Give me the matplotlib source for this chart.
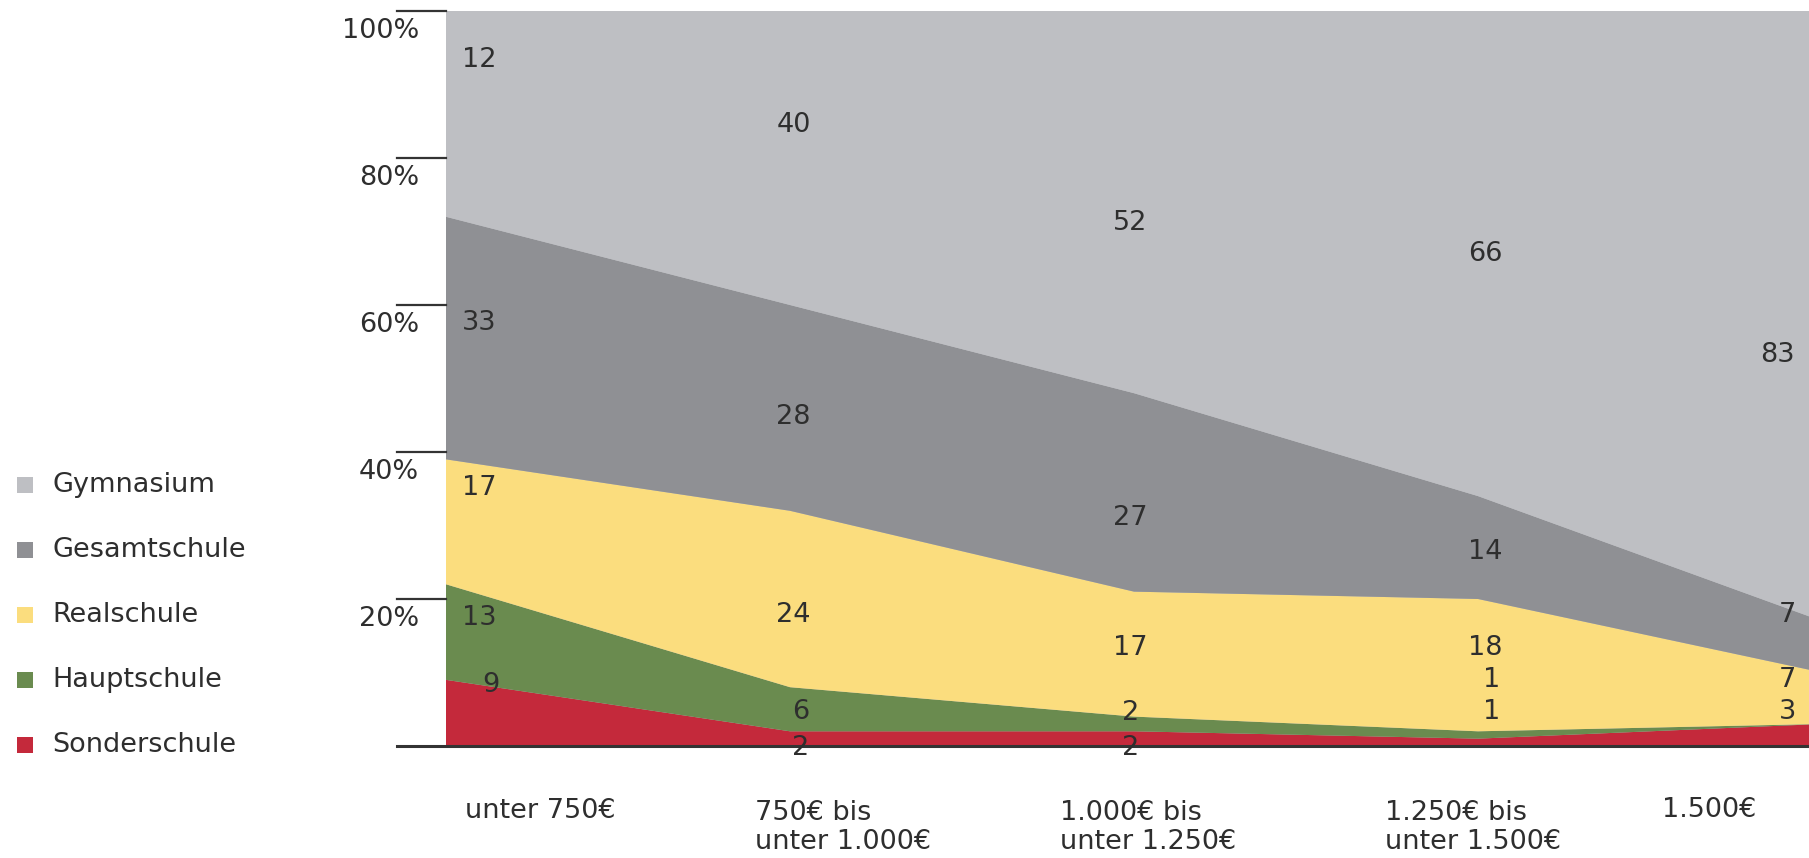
import numpy as np
import matplotlib.pyplot as plt
from matplotlib.patches import Rectangle
from matplotlib.transforms import blended_transform_factory

plt.rcParams['font.family'] = ['DejaVu Sans']

# shares of school types by monthly household income (in %)
income_groups = ["unter 750€", "750€ bis\nunter 1.000€", "1.000€ bis\nunter 1.250€",
                 "1.250€ bis\nunter 1.500€", "1.500€"]
sonderschule = [9, 2, 2, 1, 3]
hauptschule = [13, 6, 2, 1, 0]
realschule = [17, 24, 17, 18, 7]
gesamtschule = [33, 28, 27, 14, 7]
gymnasium = [12, 40, 52, 66, 83]

series = ["Sonderschule", "Hauptschule", "Realschule", "Gesamtschule", "Gymnasium"]
values = [sonderschule, hauptschule, realschule, gesamtschule, gymnasium]
colors = ["#c4293b", "#6a8b4f", "#fbdd7e", "#8f9094", "#bebfc3"]

# where the value labels sit (x in category units, y in %)
label_pos = {
    "Sonderschule": [(0.105, 8.3), (1.03, -0.3), (1.99, -0.3), (3.04, 4.6), (3.90, 4.6)],
    "Hauptschule": [(0.047, 17.4), (1.03, 4.6), (1.99, 4.5), (3.04, 9.0), None],
    "Realschule": [(0.047, 35.1), (1.01, 17.8), (1.99, 13.3), (3.02, 13.3), (3.90, 9.0)],
    "Gesamtschule": [(0.047, 57.6), (1.01, 44.8), (1.99, 31.0), (3.02, 26.4), (3.90, 17.8)],
    "Gymnasium": [(0.047, 93.3), (1.01, 84.5), (1.99, 71.2), (3.02, 67.0), (3.87, 53.2)],
}

W, H = 1809, 858
fig = plt.figure(figsize=(W / 100, H / 100), dpi=100)
left, right, bottom, top = 446, 1809, 746, 11
ax = fig.add_axes([left / W, 1 - bottom / H, (right - left) / W, (bottom - top) / H])

step = 344  # px between income groups
x = np.arange(len(income_groups))
ax.set_facecolor(colors[-1])
ax.stackplot(x, *values, colors=colors, linewidth=0)
ax.set_xlim(0, (right - left) / step)
ax.set_ylim(0, 100)
for s in ax.spines.values():
    s.set_visible(False)
ax.set_xticks([])
ax.set_yticks([])

txt = "#2e2e2e"
fs = 19.5

# value labels
for name, vals in zip(series, values):
    for i, pos in enumerate(label_pos[name]):
        if pos is None:
            continue
        ha = "left" if i == 0 else "center"
        ax.text(pos[0], pos[1], str(vals[i]), ha=ha, va="center", fontsize=fs, color=txt,
                clip_on=False)

# y axis: short tick lines with labels underneath
ytr = blended_transform_factory(ax.transAxes, ax.transData)
tick_x0 = (397 - left) / (right - left)
for v in [20, 40, 60, 80, 100]:
    ax.plot([tick_x0, 0], [v, v], color="#333333", lw=1.6, transform=ytr, clip_on=False)
    ax.text((419 - left) / (right - left), v - 2.7, f"{v}%", ha="right", va="center",
            fontsize=fs, color=txt, transform=ytr)
ax.plot([tick_x0, 1], [0, 0], color="#333333", lw=2.2, transform=ytr, clip_on=False)

# income group labels, one text per line, left aligned
xlab = [(465, 811), (755, 813), (1060, 813), (1385, 813), (1662, 810)]
for lab, (px, py) in zip(income_groups, xlab):
    for k, line in enumerate(lab.split("\n")):
        fig.text(px / W, 1 - (py + 29 * k) / H, line, ha="left", va="center",
                 fontsize=fs, color=txt)

# legend
for k, name in enumerate(reversed(series)):
    cy = 485 + 65 * k
    fig.add_artist(Rectangle((17 / W, 1 - (cy + 8) / H), 16 / W, 16 / H,
                             facecolor=colors[::-1][k], edgecolor="none",
                             transform=fig.transFigure))
    fig.text(52 / W, 1 - cy / H, name, ha="left", va="center", fontsize=fs, color=txt)

fig.savefig("out.png", dpi=100)
